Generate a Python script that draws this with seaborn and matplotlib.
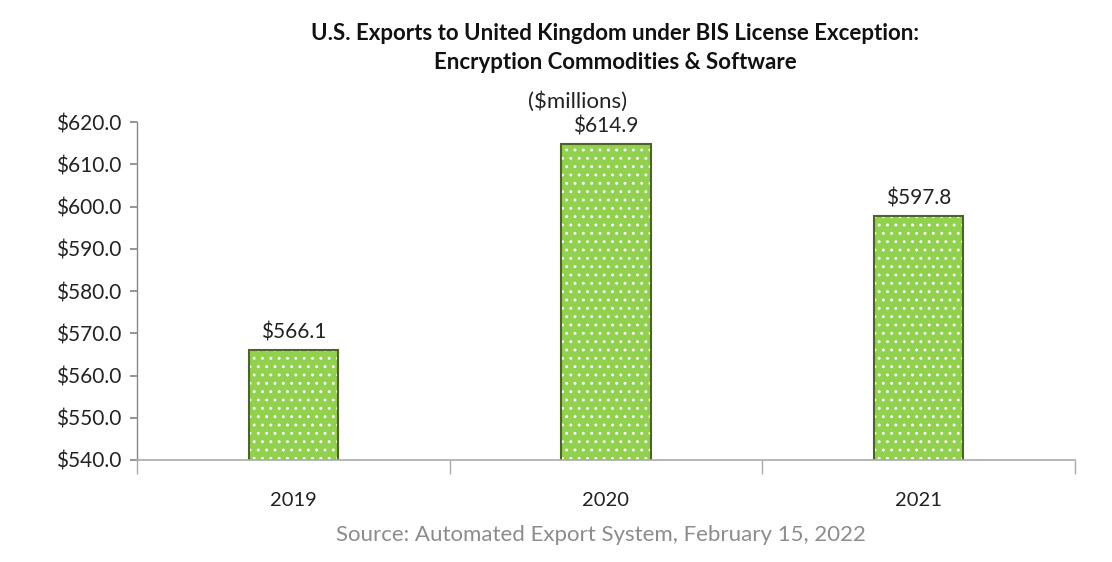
import matplotlib
matplotlib.use("Agg")
import matplotlib.pyplot as plt
import seaborn as sns
import pandas as pd

years = ["2019", "2020", "2021"]
values = [566.1, 614.9, 597.8]
yticks = [540, 550, 560, 570, 580, 590, 600, 610, 620]

title = "U.S. Exports to United Kingdom under BIS License Exception:\nEncryption Commodities & Software"
subtitle = "($millions)"
source = "Source: Automated Export System, February 15, 2022"

sns.set_theme(style="white")
plt.rcParams['font.family'] = ['Lato', 'DejaVu Sans']
plt.rcParams['hatch.linewidth'] = 0.9

df = pd.DataFrame({"year": years, "value": values})

fig = plt.figure(figsize=(11.12, 5.62), dpi=100)
ax = fig.add_axes([0.1232, 0.1815, 0.8435, 0.6014])

sns.barplot(data=df, x="year", y="value", color="#92D050", saturation=1,
            edgecolor="white", linewidth=0, hatch="..", width=0.285, ax=ax)
sns.barplot(data=df, x="year", y="value", fill=False, color="#4F6228",
            edgecolor="#4F6228", linewidth=1.5, width=0.285, ax=ax)

ax.set_ylim(540, 620)
ax.set_xlim(-0.5, 2.5)
ax.set_yticks(yticks)
ax.set_yticklabels([f"${v:.1f}" for v in yticks], fontsize=15, color="#222222")
ax.set_xticks([0, 1, 2])
ax.set_xticklabels(years, fontsize=14.5, color="#222222")
ax.set_xlabel("")
ax.set_ylabel("")

for s in ["top", "right"]:
    ax.spines[s].set_visible(False)
ax.spines["left"].set_color("#888888")
ax.spines["bottom"].set_color("#aaaaaa")
ax.spines["left"].set_linewidth(1)
ax.spines["bottom"].set_linewidth(1.2)
ax.tick_params(axis="y", which="major", left=True, length=5, color="#888888", pad=6)
ax.tick_params(axis="x", which="major", bottom=False, pad=17)
ax.set_xticks([-0.5, 0.5, 1.5, 2.5], minor=True)
ax.tick_params(axis="x", which="minor", bottom=True, length=10, color="#aaaaaa", direction="out")

for i, v in enumerate(values):
    ax.annotate(f"${v:.1f}", (i, v), xytext=(0, 5), textcoords="offset points",
                ha="center", va="bottom", fontsize=15, color="#222222")

fig.text(0.553, 0.915, title, ha="center", va="center", fontsize=16,
         fontweight="bold", color="#111111", linespacing=1.5)
fig.text(0.519, 0.820, subtitle, ha="center", va="center", fontsize=16, color="#222222")
fig.text(0.540, 0.048, source, ha="center", va="center", fontsize=16, color="#8c8c8c")

fig.savefig("out.png", dpi=100)
